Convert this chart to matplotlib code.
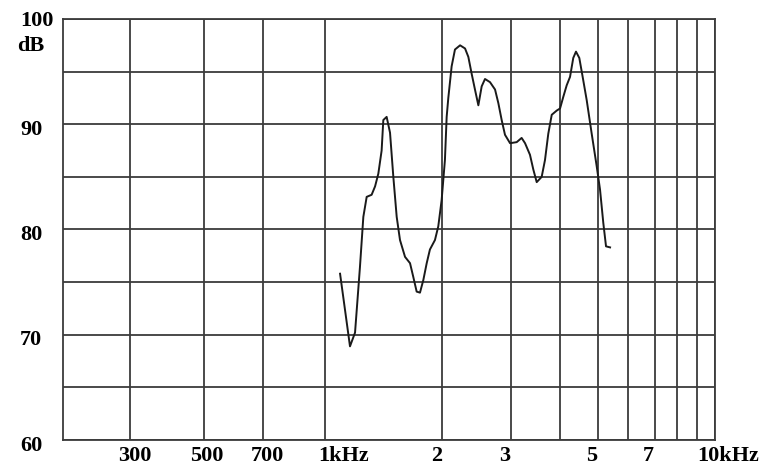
import matplotlib
matplotlib.use("Agg")
import matplotlib.pyplot as plt
import matplotlib.transforms as mtransforms
import numpy as np

# Data (frequency in Hz, level in dB)
freq = [1093, 1159, 1194, 1229, 1254, 1279, 1317, 1344, 1370, 1397, 1411, 1439,
        1468, 1497, 1527, 1557, 1604, 1652, 1684, 1718, 1752, 1787, 1823, 1858,
        1914, 1952, 1991, 2030, 2051, 2071, 2112, 2154, 2220, 2286, 2331, 2377,
        2424, 2473, 2522, 2572, 2649, 2729, 2783, 2838, 2894, 2982, 3101, 3193,
        3258, 3354, 3421, 3490, 3594, 3665, 3737, 3814, 3928, 4006, 4083, 4166,
        4249, 4331, 4401, 4488, 4578, 4688, 4829, 4974, 5072, 5172, 5255, 5382]
level = [75.8, 68.9, 70.2, 76.4, 81.2, 83.1, 83.3, 84.1, 85.3, 87.5, 90.4, 90.7,
         89.2, 85.0, 81.2, 79.0, 77.4, 76.8, 75.5, 74.1, 74.0, 75.2, 76.8, 78.1,
         79.0, 80.3, 82.8, 86.6, 90.7, 92.5, 95.5, 97.1, 97.5, 97.2, 96.4, 94.8,
         93.3, 91.8, 93.6, 94.3, 94.0, 93.3, 92.0, 90.4, 89.0, 88.2, 88.3, 88.7,
         88.2, 87.1, 85.7, 84.5, 85.0, 86.6, 89.1, 90.9, 91.3, 91.5, 92.6, 93.7,
         94.5, 96.3, 96.9, 96.3, 94.5, 92.3, 89.1, 86.0, 83.8, 80.6, 78.4, 78.3]

x_grid = [300, 500, 700, 1000, 2000, 3000, 4000, 5000, 6000, 7000, 8000, 9000, 10000]
x_tick_pos = [300, 500, 700, 1000, 2000, 3000, 5000, 7000, 10000]
x_tick_labels = ["300", "500", "700", "1kHz", "2", "3", "5", "7", "10kHz"]
y_grid = [60, 65, 70, 75, 80, 85, 90, 95, 100]
y_tick_pos = [60, 70, 80, 90, 100]
y_tick_labels = ["60", "70", "80", "90", "100"]

# The printed chart's frequency axis is log-like but compressed below 1 kHz:
# a piecewise-logarithmic scale (anchor frequency -> relative position).
scale_f = [150, 300, 500, 1000, 10000]
scale_u = [30, 130, 204, 325, 715]
_lf = np.log10(scale_f)


def _fwd(f):
    f = np.clip(np.asarray(f, dtype=float), 1e-9, None)
    lf = np.log10(f)
    u = np.interp(lf, _lf, scale_u)
    lo = lf < _lf[0]
    hi = lf > _lf[-1]
    s0 = (scale_u[1] - scale_u[0]) / (_lf[1] - _lf[0])
    s1 = (scale_u[-1] - scale_u[-2]) / (_lf[-1] - _lf[-2])
    u = np.where(lo, scale_u[0] + (lf - _lf[0]) * s0, u)
    u = np.where(hi, scale_u[-1] + (lf - _lf[-1]) * s1, u)
    return u


def _inv(u):
    u = np.asarray(u, dtype=float)
    lf = np.interp(u, scale_u, _lf)
    s0 = (scale_u[1] - scale_u[0]) / (_lf[1] - _lf[0])
    s1 = (scale_u[-1] - scale_u[-2]) / (_lf[-1] - _lf[-2])
    lf = np.where(u < scale_u[0], _lf[0] + (u - scale_u[0]) / s0, lf)
    lf = np.where(u > scale_u[-1], _lf[-1] + (u - scale_u[-1]) / s1, lf)
    return 10 ** lf


W, H = 771, 465
fig = plt.figure(figsize=(W / 100, H / 100), dpi=100)
ax = fig.add_axes([63 / W, 1 - 440 / H, (715 - 63) / W, (440 - 19) / H])

gcol = "#3c3c3c"
ax.set_xscale("function", functions=(_fwd, _inv))
ax.set_xlim(float(_inv(63)), 10000)
ax.set_ylim(60, 100)

for xv in x_grid:
    ax.axvline(xv, color=gcol, lw=1.3, zorder=1)
for yv in y_grid:
    ax.axhline(yv, color=gcol, lw=1.3, zorder=1)

ax.plot(freq, level, color="#1a1a1a", lw=1.4, zorder=3)

for s in ax.spines.values():
    s.set_color(gcol)
    s.set_linewidth(1.3)

font = dict(family="Liberation Serif", weight="bold", size=16)

ax.xaxis.set_minor_locator(matplotlib.ticker.NullLocator())
ax.set_xticks(x_tick_pos)
ax.set_xticklabels(x_tick_labels, **font)
ax.tick_params(axis="x", length=0, pad=4)
offsets = {"1kHz": ("left", -7), "10kHz": ("left", -18), "300": ("center", 5),
           "500": ("center", 3), "700": ("center", 5)}
for lab in ax.get_xticklabels():
    t = lab.get_text()
    if t in offsets:
        ha, dx = offsets[t]
    else:
        ha, dx = "center", -6
    lab.set_ha(ha)
    lab.set_transform(lab.get_transform() +
                      mtransforms.ScaledTranslation(dx / 100, 0, fig.dpi_scale_trans))

ax.set_yticks(y_tick_pos)
ax.set_yticklabels(y_tick_labels, **font)
ax.tick_params(axis="y", length=0, pad=31)
ax.yaxis.set_minor_locator(matplotlib.ticker.NullLocator())
for lab in ax.get_yticklabels():
    lab.set_ha("left")
    if lab.get_text() != "100":
        lab.set_transform(lab.get_transform() +
                          mtransforms.ScaledTranslation(0, -3 / 100, fig.dpi_scale_trans))

fig.text(17 / W, 1 - 46 / H, "dB", ha="left", va="center", **font)

fig.savefig("out.png", dpi=100)
